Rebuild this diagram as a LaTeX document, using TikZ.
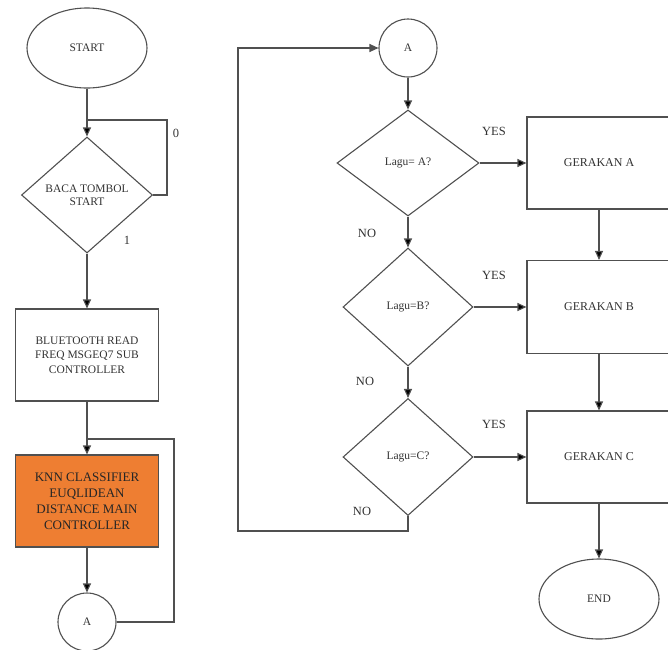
\documentclass[tikz,border=0pt]{standalone}
\usepackage{fontspec}
\setmainfont{Liberation Serif}
\usetikzlibrary{arrows.meta,shapes.geometric,positioning}
\definecolor{knnorange}{RGB}{238,126,50}
\definecolor{linegray}{RGB}{80,80,80}
\definecolor{textgray}{RGB}{50,50,50}
\tikzset{
	flowline/.style={draw=linegray,line width=1.1pt},
	decbox/.style={diamond,draw=linegray,line width=1.1pt,inner sep=0pt,text=textgray},
	procbox/.style={rectangle,draw=linegray,line width=1.1pt,align=center,text=textgray},
	termbox/.style={ellipse,draw=linegray,line width=1.1pt,minimum width=120pt,minimum height=80pt,text=textgray},
	connbox/.style={circle,draw=linegray,line width=1.1pt,minimum size=58pt,inner sep=0pt,text=textgray},
	lbl/.style={text=textgray,font=\fontsize{12.5}{14}\selectfont}
}

\begin{document}
\begin{tikzpicture}[x=1pt,y=-1pt,font=\fontsize{11.5}{13}\selectfont]
		\useasboundingbox (0,0) rectangle (668,649);

		% left column
		\node[termbox] (start) at (87,48) {START};
		\node[decbox,minimum width=131pt,minimum height=116pt,align=center,
			font=\fontsize{11.5}{13}\selectfont] (baca) at (87,195) {BACA TOMBOL\\START};
		\node[procbox,minimum width=143pt,minimum height=92pt,
			font=\fontsize{11.5}{14.5}\selectfont] (bt) at (87,355) {BLUETOOTH READ\\FREQ MSGEQ7 SUB\\CONTROLLER};
		\node[procbox,fill=knnorange,minimum width=143pt,minimum height=92pt,text=black!85,
			font=\fontsize{13}{16}\selectfont] (knn) at (87,501) {KNN CLASSIFIER\\EUQLIDEAN\\DISTANCE MAIN\\CONTROLLER};
		\node[connbox] (ka) at (87,622) {A};

		\coordinate (jbaca) at (87,120);
		\coordinate (rbaca) at (167,120);
		\coordinate (jknn) at (87,439);
		\coordinate (rknn) at (174,439);

		\node[lbl] (nol) at (176,133) {0};
		\node[lbl] (satu) at (127,240) {1};

		% right column
		\node[connbox] (ra) at (408,48) {A};
		\node[decbox,minimum width=142pt,minimum height=106pt] (qa) at (408,163) {Lagu= A?};
		\node[decbox,minimum width=130pt,minimum height=118pt] (qb) at (408,307) {Lagu=B?};
		\node[decbox,minimum width=130pt,minimum height=117pt] (qc) at (408,457) {Lagu=C?};

		\node[procbox,minimum width=144pt,minimum height=92pt,font=\fontsize{12}{14}\selectfont] (ga) at (599,163) {GERAKAN A};
		\node[procbox,minimum width=144pt,minimum height=93pt,font=\fontsize{12}{14}\selectfont] (gb) at (599,307) {GERAKAN B};
		\node[procbox,minimum width=144pt,minimum height=92pt,font=\fontsize{12}{14}\selectfont] (gc) at (599,457) {GERAKAN C};
		\node[termbox] (end) at (599,599) {END};

		\coordinate (bqc) at (408,531);
		\coordinate (bl) at (238,531);
		\coordinate (tl) at (238,48);

		\node[lbl] (yesa) at (494,131) {YES};
		\node[lbl] (yesb) at (494,275) {YES};
		\node[lbl] (yesc) at (494,424) {YES};
		\node[lbl] (noa) at (367,233) {NO};
		\node[lbl] (nob) at (365,381) {NO};
		\node[lbl] (noc) at (362,511) {NO};

		\begin{scope}[>={Triangle[length=9pt,width=8pt]}]
			\path[flowline,->] (start) edge (baca);
			\path[flowline] (baca.east) -| (rbaca) -- (jbaca);
			\path[flowline,->] (baca) edge (bt);
			\path[flowline,->] (bt) edge (knn);
			\path[flowline] (ka.east) -| (rknn) -- (jknn);
			\path[flowline,->] (knn) edge (ka);

			\path[flowline,->] (ra) edge (qa);
			\path[flowline,->] (qa) edge (qb);
			\path[flowline,->] (qb) edge (qc);
			\path[flowline,->] (qa) edge (ga);
			\path[flowline,->] (qb) edge (gb);
			\path[flowline,->] (qc) edge (gc);
			\path[flowline,->] (ga) edge (gb);
			\path[flowline,->] (gb) edge (gc);
			\path[flowline,->] (gc) edge (end);
			\path[flowline,->] (qc.south) -- (bqc) -- (bl) -- (tl) -- (ra);
		\end{scope}
	\end{tikzpicture}
\end{document}
